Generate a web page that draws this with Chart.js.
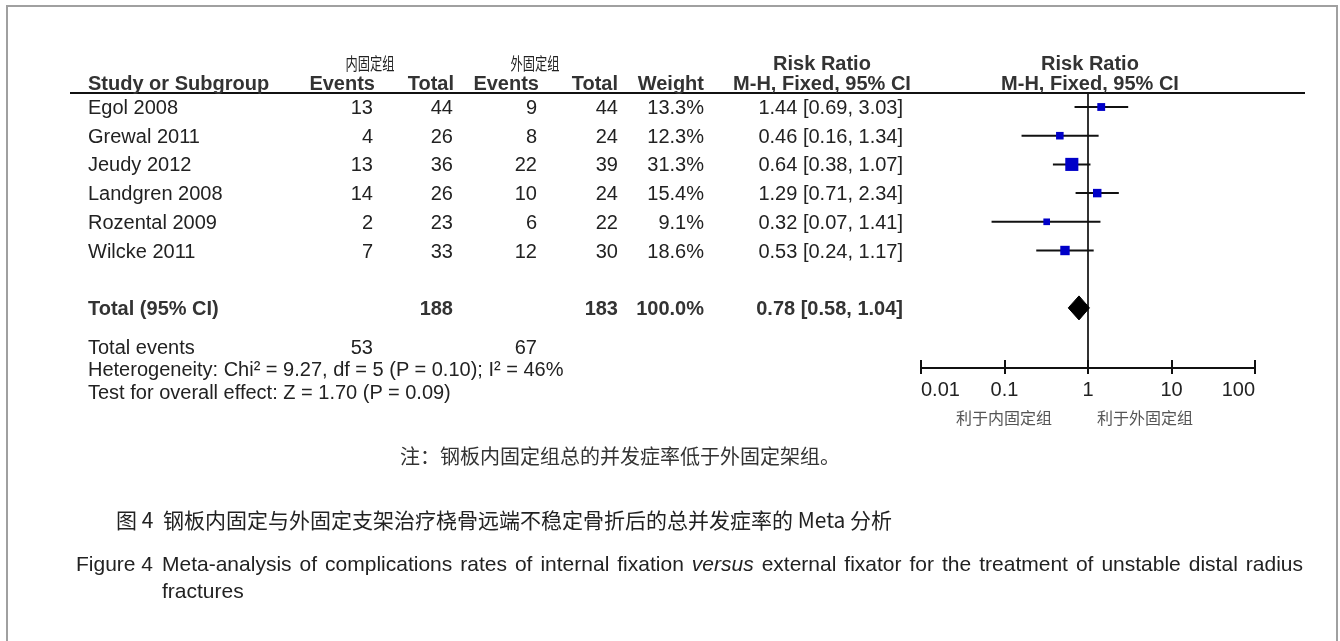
<!DOCTYPE html>
<html>
<head>
<meta charset="utf-8">
<script src="https://cdn.jsdelivr.net/npm/chart.js@4.4.0/dist/chart.umd.min.js"></script>
<style>
  body { margin:0; background:#fff; width:1340px; height:641px; overflow:hidden; position:relative;
         font-family:"Liberation Sans", Arial, sans-serif; color:#222; }
  #frame { position:absolute; left:6px; top:5px; width:1328px; height:700px; border:2px solid #a0a0a0; }
  #wrap  { position:absolute; left:0; top:0; width:1340px; height:641px; }
  #rule  { position:absolute; left:70px; top:92px; width:1235px; height:2px; background:#111; }
  .t  { position:absolute; font-size:20px; line-height:24px; white-space:nowrap; }
  .b  { font-weight:bold; color:#333; }
  .cjk { font-family:"Noto Sans CJK SC", sans-serif; font-size:20px; }
  #capline { width:1141px; text-align:justify; text-align-last:justify; font-size:21px; }
</style>
</head>
<body>
<div id="frame"></div>
<div id="wrap"><canvas id="forest"></canvas></div>
<div id="rule"></div>
<div id="texts"></div>

<script>
// ----- Data -----
const studies  = ['Egol 2008', 'Grewal 2011', 'Jeudy 2012', 'Landgren 2008', 'Rozental 2009', 'Wilcke 2011'];
const evIn     = [13, 4, 13, 14, 2, 7];
const totIn    = [44, 26, 36, 26, 23, 33];
const evOut    = [9, 8, 22, 10, 6, 12];
const totOut   = [44, 24, 39, 24, 22, 30];
const weights  = [13.3, 12.3, 31.3, 15.4, 9.1, 18.6];
const rr       = [1.44, 0.46, 0.64, 1.29, 0.32, 0.53];
const rrLo     = [0.69, 0.16, 0.38, 0.71, 0.07, 0.24];
const rrHi     = [3.03, 1.34, 1.07, 2.34, 1.41, 1.17];
const totalN   = [188, 183];
const totalEv  = [53, 67];
const totalRR  = [0.78, 0.58, 1.04];   // estimate, low, high
const xTicks   = [0.01, 0.1, 1, 10, 100];
const TOTAL_ROW = 7;

// ----- Layout -----
const ROW0 = 107, ROWH = 28.7, AXIS_Y = 368, TOP_Y = 93;
const Y_MIN = (TOP_Y - ROW0) / ROWH, Y_MAX = (AXIS_Y - ROW0) / ROWH;
const rowY = i => ROW0 + ROWH * i;
const FONT = '"Liberation Sans", Arial, sans-serif';

// ----- Text table -----
const box = document.getElementById('texts');
function put(txt, x, y, align = 'left', cls = '', extra = '') {
  const d = document.createElement('div');
  d.className = 't ' + cls;
  d.textContent = txt;
  let tf = '';
  if (align === 'left')   d.style.left = x + 'px';
  if (align === 'right')  d.style.right = (1340 - x) + 'px';
  if (align === 'center') { d.style.left = x + 'px'; tf = 'translateX(-50%) '; }
  d.style.top = (y - 12) + 'px';
  d.style.transform = tf + extra;
  box.appendChild(d);
  return d;
}

// header
put('内固定组', 370, 63, 'center', 'cjk', 'scaleX(0.72)').style.fontSize = '17px';
put('外固定组', 535, 63, 'center', 'cjk', 'scaleX(0.72)').style.fontSize = '17px';
put('Risk Ratio', 822, 63, 'center', 'b');
put('Risk Ratio', 1090, 63, 'center', 'b');
put('Study or Subgroup', 88, 83, 'left', 'b');
put('Events', 375, 83, 'right', 'b');
put('Total', 454, 83, 'right', 'b');
put('Events', 539, 83, 'right', 'b');
put('Total', 618, 83, 'right', 'b');
put('Weight', 704, 83, 'right', 'b');
put('M-H, Fixed, 95% CI', 822, 83, 'center', 'b');
put('M-H, Fixed, 95% CI', 1090, 83, 'center', 'b');

// study rows
studies.forEach((s, i) => {
  const y = rowY(i);
  put(s, 88, y);
  put(String(evIn[i]), 373, y, 'right');
  put(String(totIn[i]), 453, y, 'right');
  put(String(evOut[i]), 537, y, 'right');
  put(String(totOut[i]), 618, y, 'right');
  put(weights[i].toFixed(1) + '%', 704, y, 'right');
  put(`${rr[i].toFixed(2)} [${rrLo[i].toFixed(2)}, ${rrHi[i].toFixed(2)}]`, 903, y, 'right');
});

// totals
const ty = rowY(TOTAL_ROW);
put('Total (95% CI)', 88, ty, 'left', 'b');
put(String(totalN[0]), 453, ty, 'right', 'b');
put(String(totalN[1]), 618, ty, 'right', 'b');
put('100.0%', 704, ty, 'right', 'b');
put(`${totalRR[0].toFixed(2)} [${totalRR[1].toFixed(2)}, ${totalRR[2].toFixed(2)}]`, 903, ty, 'right', 'b');
put('Total events', 88, 347);
put(String(totalEv[0]), 373, 347, 'right');
put(String(totalEv[1]), 537, 347, 'right');
put('Heterogeneity: Chi² = 9.27, df = 5 (P = 0.10); I² = 46%', 88, 369);
put('Test for overall effect: Z = 1.70 (P = 0.09)', 88, 392);

// axis side labels
const favIn  = put('利于内固定组', 1004, 417, 'center', 'cjk');
const favOut = put('利于外固定组', 1145, 417, 'center', 'cjk');
[favIn, favOut].forEach(d => { d.style.color = '#555'; d.style.fontSize = '16px'; });

// captions
put('注：钢板内固定组总的并发症率低于外固定架组。', 400, 456, 'left', 'cjk').style.color = '#333';
put('图 4', 116, 519, 'left', 'cjk').style.fontSize = '21px';
put('钢板内固定与外固定支架治疗桡骨远端不稳定骨折后的总并发症率的 Meta 分析', 163, 519, 'left', 'cjk').style.fontSize = '21px';
put('Figure 4', 76, 564).style.fontSize = '21px';
const cap = put('', 162, 564);
cap.id = 'capline';
cap.innerHTML = 'Meta-analysis of complications rates of internal fixation <i>versus</i> external fixator for the treatment of unstable distal radius';
put('fractures', 162, 591).style.fontSize = '21px';

// ----- Chart -----
const ciSets = studies.map((s, i) => ({
  label: s,
  data: [{ x: rrLo[i], y: i }, { x: rrHi[i], y: i }],
  showLine: true, borderColor: '#111', borderWidth: 2, pointRadius: 0, order: 2,
}));

// square side grows with weight
const boxSet = {
  label: 'RR',
  data: rr.map((v, i) => ({ x: v, y: i })),
  pointStyle: 'rect',
  pointRadius: weights.map(w => (4 + 0.29 * w) / Math.SQRT2),
  backgroundColor: '#0000c8', borderWidth: 0, order: 0,
};

const DH = 12 / ROWH;  // diamond half height in rows
const diamondSet = {
  label: 'Total',
  data: [
    { x: totalRR[1], y: TOTAL_ROW }, { x: totalRR[0], y: TOTAL_ROW - DH },
    { x: totalRR[2], y: TOTAL_ROW }, { x: totalRR[0], y: TOTAL_ROW + DH },
    { x: totalRR[1], y: TOTAL_ROW },
  ],
  showLine: true, fill: 'shape', backgroundColor: '#000', borderColor: '#000',
  borderWidth: 1, pointRadius: 0, tension: 0, order: 1,
};

const refLine = {
  label: 'ref',
  data: [{ x: 1, y: Y_MIN }, { x: 1, y: Y_MAX }],
  showLine: true, borderColor: '#333', borderWidth: 2, pointRadius: 0, order: 3,
};

// tick marks cross the axis line, so draw the upper half too
const crossTicks = {
  id: 'crossTicks',
  afterDraw(chart) {
    const { ctx, scales: { x }, chartArea } = chart;
    ctx.save();
    ctx.strokeStyle = '#111';
    ctx.lineWidth = 2;
    xTicks.forEach(v => {
      const px = Math.round(x.getPixelForValue(v));
      ctx.beginPath();
      ctx.moveTo(px, chartArea.bottom - 8);
      ctx.lineTo(px, chartArea.bottom);
      ctx.stroke();
    });
    ctx.restore();
  },
};

new Chart(document.getElementById('forest'), {
  type: 'scatter',
  data: { datasets: [...ciSets, boxSet, diamondSet, refLine] },
  options: {
    responsive: true,
    maintainAspectRatio: false,
    animation: false,
    layout: { padding: { left: 921, right: 85, top: TOP_Y, bottom: 641 - AXIS_Y - 40 } },
    plugins: { legend: { display: false }, tooltip: { enabled: false } },
    scales: {
      x: {
        type: 'logarithmic', min: 0.01, max: 100, position: 'bottom',
        border: { display: true, color: '#111', width: 2 },
        grid: { drawOnChartArea: false, drawTicks: true, tickLength: 6, color: '#111', lineWidth: 2 },
        ticks: { color: '#222', font: { family: FONT, size: 20 }, padding: 4, maxRotation: 0,
                 align: 'inner', callback: v => String(v) },
        afterBuildTicks: s => { s.ticks = xTicks.map(v => ({ value: v })); },
        afterFit: s => { s.height = 40; },
      },
      y: { type: 'linear', display: false, min: Y_MIN, max: Y_MAX, reverse: true },
    },
  },
  plugins: [crossTicks],
});
</script>
</body>
</html>
